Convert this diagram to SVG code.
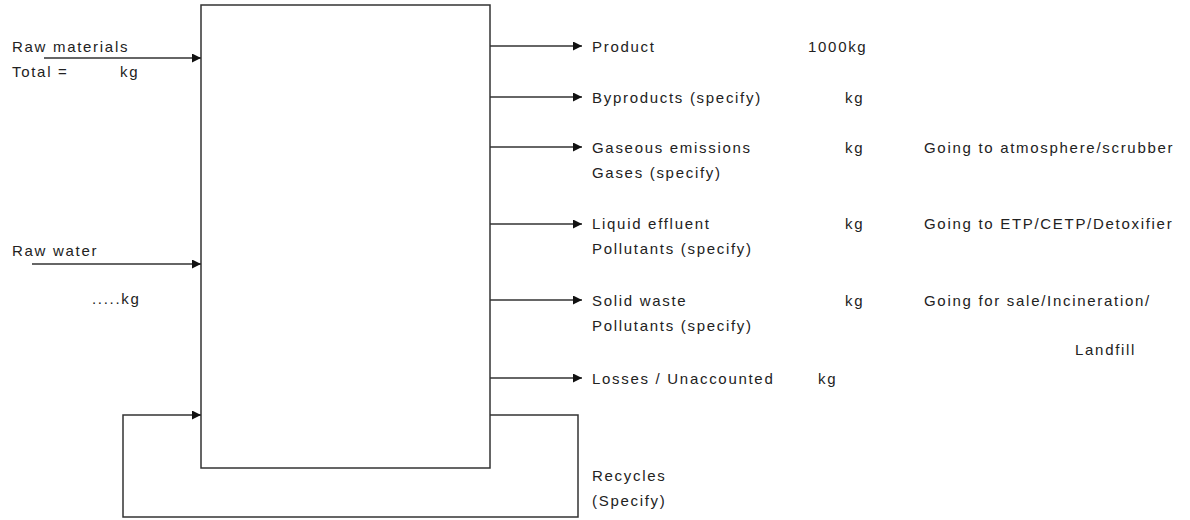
<svg xmlns="http://www.w3.org/2000/svg" width="1190" height="520" viewBox="0 0 1190 520">
<style>
text{font-family:"Liberation Sans",Arial,sans-serif;font-size:15px;fill:#222;letter-spacing:1.7px}
.ln{stroke:#333;stroke-width:1.5;fill:none}
</style>
<defs>
<marker id="ah" viewBox="0 0 10 10" refX="10" refY="5" markerWidth="10" markerHeight="9" markerUnits="userSpaceOnUse" orient="auto">
<path d="M0,0L10,5L0,10z" fill="#111"/>
</marker>
</defs>
<rect width="1190" height="520" fill="#fff"/>
<g id="process">
<rect x="201" y="5" width="289" height="463" class="ln"/>
</g>
<g id="connectors">
<line x1="44" y1="58" x2="201" y2="58" class="ln" marker-end="url(#ah)"/>
<line x1="32" y1="264" x2="201" y2="264" class="ln" marker-end="url(#ah)"/>
<polyline points="490,415 578,415 578,517 123,517 123,415 201,415" class="ln" marker-end="url(#ah)"/>
<line x1="490" y1="46" x2="582" y2="46" class="ln" marker-end="url(#ah)"/>
<line x1="490" y1="97" x2="582" y2="97" class="ln" marker-end="url(#ah)"/>
<line x1="490" y1="147" x2="582" y2="147" class="ln" marker-end="url(#ah)"/>
<line x1="490" y1="224" x2="582" y2="224" class="ln" marker-end="url(#ah)"/>
<line x1="490" y1="300" x2="582" y2="300" class="ln" marker-end="url(#ah)"/>
<line x1="490" y1="378" x2="582" y2="378" class="ln" marker-end="url(#ah)"/>
</g>
<g id="raw-materials">
<text x="12" y="52">Raw materials</text>
<text x="12" y="77">Total =</text>
<text x="120" y="77">kg</text>
</g>
<g id="raw-water">
<text x="12" y="256">Raw water</text>
<text x="92" y="304">.....kg</text>
</g>
<g id="product">
<text x="592" y="52">Product</text>
<text x="808" y="52">1000kg</text>
</g>
<g id="byproducts">
<text x="592" y="103">Byproducts (specify)</text>
<text x="845" y="103">kg</text>
</g>
<g id="gaseous">
<text x="592" y="153">Gaseous emissions</text>
<text x="592" y="178">Gases (specify)</text>
<text x="845" y="153">kg</text>
<text x="924" y="153">Going to atmosphere/scrubber</text>
</g>
<g id="liquid">
<text x="592" y="229">Liquid effluent</text>
<text x="592" y="254">Pollutants (specify)</text>
<text x="845" y="229">kg</text>
<text x="924" y="229">Going to ETP/CETP/Detoxifier</text>
</g>
<g id="solid">
<text x="592" y="306">Solid waste</text>
<text x="592" y="331">Pollutants (specify)</text>
<text x="845" y="306">kg</text>
<text x="924" y="306">Going for sale/Incineration/</text>
<text x="1075" y="355">Landfill</text>
</g>
<g id="losses">
<text x="592" y="384">Losses / Unaccounted</text>
<text x="818" y="384">kg</text>
</g>
<g id="recycles">
<text x="592" y="481">Recycles</text>
<text x="592" y="506">(Specify)</text>
</g>
</svg>
